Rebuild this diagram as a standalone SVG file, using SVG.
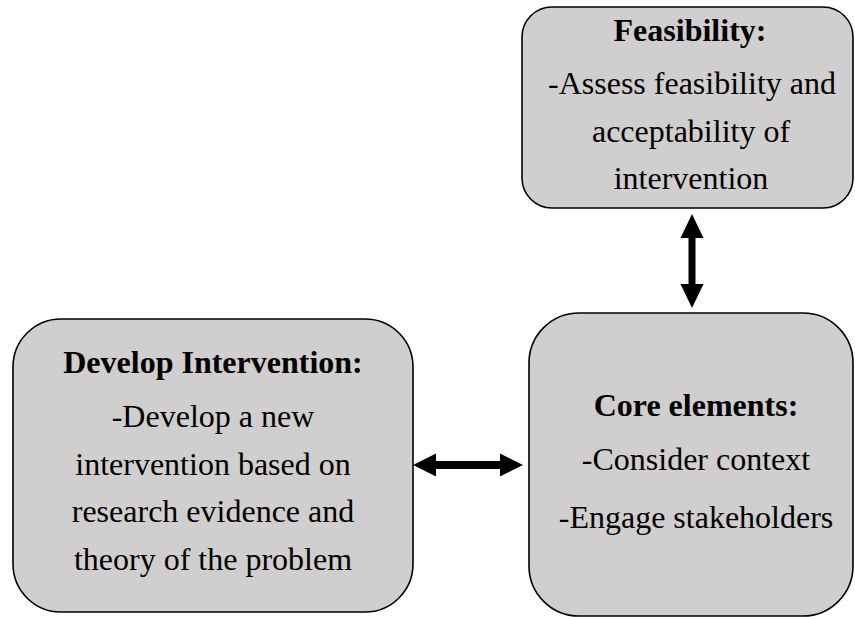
<svg xmlns="http://www.w3.org/2000/svg" width="855" height="617" viewBox="0 0 855 617">
<style>
.box{fill:#d0cece;stroke:#000;stroke-width:1.6}
text{font-family:"Liberation Serif","Times New Roman",serif;font-size:32px;fill:#000;text-anchor:middle}
.t{font-weight:bold}
.arr{fill:#000}
</style>
<rect width="855" height="617" fill="#fff"/>
<g id="feasibility">
<rect class="box" x="522" y="7" width="331" height="201" rx="30" ry="30"/>
<text class="t" x="690" y="41">Feasibility:</text>
<text x="692" y="94">-Assess feasibility and</text>
<text x="691" y="142">acceptability of</text>
<text x="691" y="189">intervention</text>
</g>
<g id="core">
<rect class="box" x="529" y="313" width="324" height="303" rx="50" ry="50"/>
<text class="t" x="696" y="416">Core elements:</text>
<text x="696" y="470">-Consider context</text>
<text x="696" y="528">-Engage stakeholders</text>
</g>
<g id="develop">
<rect class="box" x="13" y="319" width="400" height="293" rx="48" ry="48"/>
<text class="t" x="213" y="373">Develop Intervention:</text>
<text x="213" y="427">-Develop a new</text>
<text x="213" y="475">intervention based on</text>
<text x="213" y="522">research evidence and</text>
<text x="213" y="570">theory of the problem</text>
</g>
<g id="connectors">
<polygon class="arr" points="692,214 703.5,238 695.5,238 695.5,284 703.5,284 692,308 680.5,284 688.5,284 688.5,238 680.5,238"/>
<polygon class="arr" points="413,465 436,453.5 436,461 500,461 500,453.5 523,465 500,476.5 500,469 436,469 436,476.5"/>
</g>
</svg>
